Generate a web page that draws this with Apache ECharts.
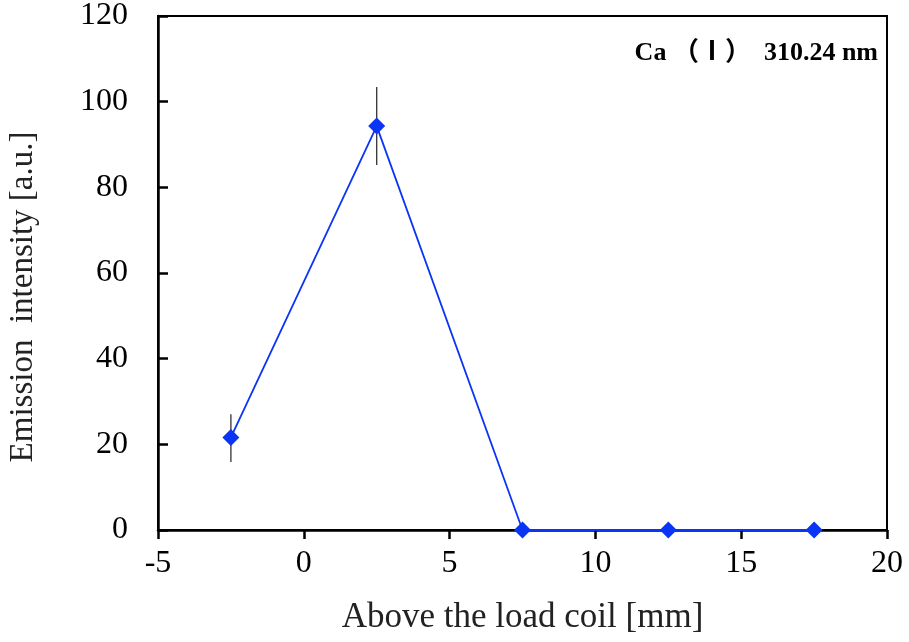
<!DOCTYPE html>
<html>
<head>
<meta charset="utf-8">
<script src="https://cdn.jsdelivr.net/npm/echarts@6/dist/echarts.min.js"></script>
<style>
html, body { margin: 0; padding: 0; background: #fff; }
#main { width: 909px; height: 642px; }
</style>
</head>
<body>
<div id="main"></div>
<script>
var positions = [-2.5, 2.5, 7.5, 12.5, 17.5];
var intensity = [21.6, 94.3, 0, 0, 0];
var errLow = [15.9, 85.2, 0, 0, 0];
var errHigh = [27.0, 103.4, 0, 0, 0];

var serif = 'Liberation Serif';

function renderErr(params, api) {
    var x = api.value(0);
    var lo = api.coord([x, api.value(1)]);
    var hi = api.coord([x, api.value(2)]);
    return {
        type: 'line',
        shape: { x1: lo[0], y1: lo[1], x2: hi[0], y2: hi[1] },
        style: { stroke: '#333', lineWidth: 1.3 }
    };
}

var errData = [];
for (var i = 0; i < positions.length; i++) {
    if (errHigh[i] > errLow[i]) {
        errData.push([positions[i], errLow[i], errHigh[i]]);
    }
}
var lineData = [];
for (var j = 0; j < positions.length; j++) {
    lineData.push([positions[j], intensity[j]]);
}

var chart = echarts.init(document.getElementById('main'));
chart.setOption({
    animation: false,
    backgroundColor: '#fff',
    grid: {
        left: 158, right: 22, top: 16, bottom: 112,
        outerBoundsMode: 'none', containLabel: false,
        show: true, borderColor: '#000', borderWidth: 2
    },
    title: {
        text: 'Ca （Ⅰ）  310.24 nm',
        right: 26, top: 35,
        textStyle: { fontFamily: "'Liberation Serif', 'Noto Sans CJK SC', serif", fontWeight: 'bold', fontSize: 26, color: '#000' }
    },
    xAxis: {
        type: 'value',
        min: -5, max: 20, interval: 5,
        name: 'Above the load coil [mm]',
        nameLocation: 'middle', nameGap: 70,
        nameTextStyle: { fontFamily: serif, fontSize: 35, color: '#222' },
        axisLine: { onZero: false, lineStyle: { color: '#000', width: 2.5 } },
        axisTick: { show: true, inside: false, length: 9, lineStyle: { color: '#000', width: 2.5 } },
        axisLabel: { fontFamily: serif, fontSize: 32, color: '#000', margin: 18 },
        splitLine: { show: false }
    },
    yAxis: {
        type: 'value',
        min: 0, max: 120, interval: 20,
        name: 'Emission  intensity [a.u.]',
        nameLocation: 'middle', nameGap: 118,
        nameTextStyle: { fontFamily: serif, fontSize: 33, color: '#222', padding: [0, 48, 0, 0] },
        axisLine: { onZero: false, lineStyle: { color: '#000', width: 2.5 } },
        axisTick: { show: true, inside: true, length: 10, lineStyle: { color: '#000', width: 2.5 } },
        axisLabel: { fontFamily: serif, fontSize: 32, color: '#000', margin: 30 },
        splitLine: { show: false }
    },
    series: [
        {
            type: 'custom',
            renderItem: renderErr,
            data: errData,
            z: 1
        },
        {
            type: 'line',
            data: lineData,
            symbol: 'diamond',
            symbolSize: 17,
            lineStyle: { color: '#0a35f5', width: 1.8 },
            itemStyle: { color: '#0a35f5' },
            z: 2
        }
    ]
});
</script>
</body>
</html>
